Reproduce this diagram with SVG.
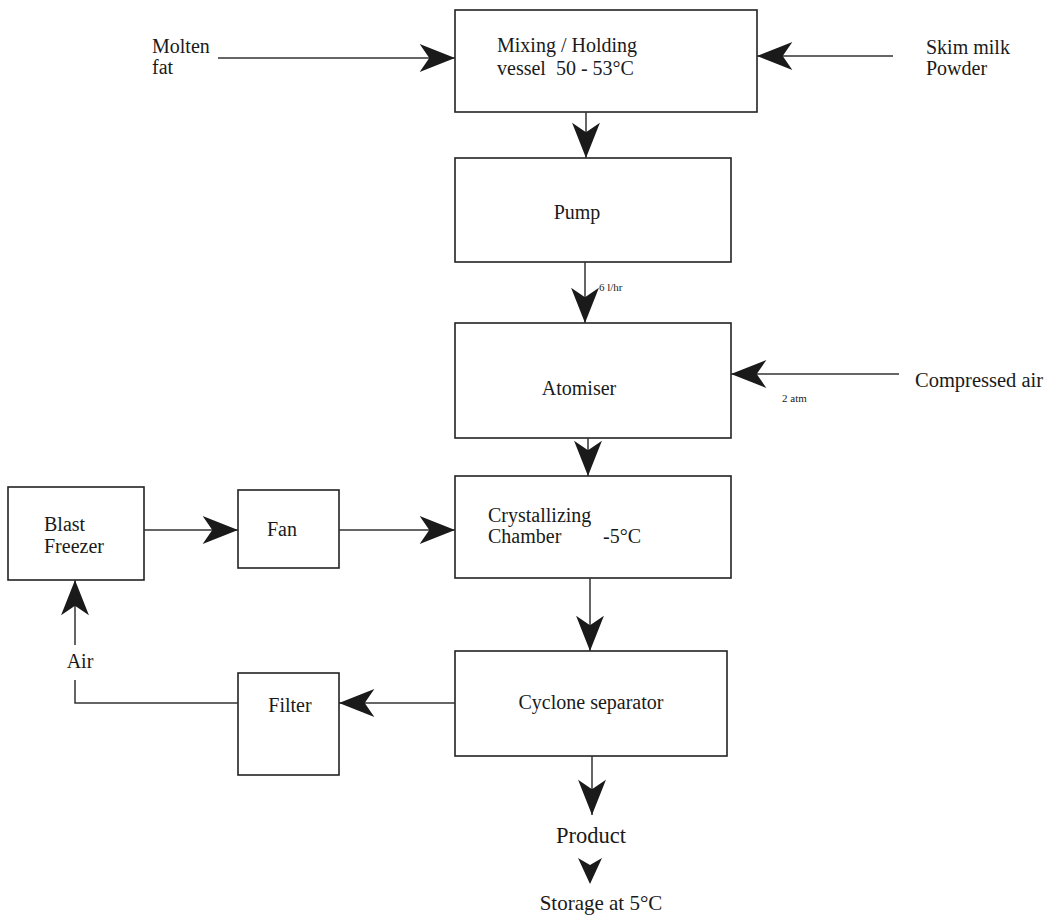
<svg xmlns="http://www.w3.org/2000/svg" width="1053" height="919" viewBox="0 0 1053 919">
<style>
.box{fill:#fff;stroke:#222;stroke-width:1.6}
.ln{fill:none;stroke:#333;stroke-width:1.5}
.t{font-family:"Liberation Serif","Times New Roman",serif;font-size:20px;fill:#1a1a1a}
.s{font-family:"Liberation Serif","Times New Roman",serif;font-size:11px;fill:#1a1a1a}
.ah{fill:#1a1a1a}
</style>
<defs>
<marker id="arr" markerUnits="userSpaceOnUse" markerWidth="40" markerHeight="30" viewBox="-34 -14 36 28" refX="0" refY="0" orient="auto">
<path d="M0,0 L-33,-13 L-24,0 L-33,13 Z" fill="#1a1a1a"/>
</marker>
</defs>
<rect width="1053" height="919" fill="#fff"/>
<g id="mixing"><rect class="box" x="455" y="10" width="302" height="102"/><text class="t" x="497" y="52">Mixing / Holding</text><text class="t" x="497" y="75" xml:space="preserve">vessel  50 - 53°C</text></g>
<g id="pump"><rect class="box" x="455" y="158" width="276" height="104"/><text class="t" x="577" y="219" text-anchor="middle">Pump</text></g>
<g id="atomiser"><rect class="box" x="455" y="323" width="276" height="115"/><text class="t" x="579" y="395" text-anchor="middle">Atomiser</text></g>
<g id="crystallizing"><rect class="box" x="455" y="476" width="276" height="102"/><text class="t" x="488" y="522">Crystallizing</text><text class="t" x="488" y="543">Chamber</text><text class="t" x="603" y="543">-5°C</text></g>
<g id="blast"><rect class="box" x="8" y="487" width="136" height="93"/><text class="t" x="44" y="531">Blast</text><text class="t" x="44" y="553">Freezer</text></g>
<g id="fan"><rect class="box" x="238" y="490" width="101" height="78"/><text class="t" x="267" y="536">Fan</text></g>
<g id="cyclone"><rect class="box" x="455" y="651" width="272" height="105"/><text class="t" x="591" y="709" text-anchor="middle">Cyclone separator</text></g>
<g id="filter"><rect class="box" x="238" y="673" width="101" height="102"/><text class="t" x="290" y="712" text-anchor="middle">Filter</text></g>
<g id="labels">
<text class="t" x="152" y="53">Molten</text><text class="t" x="152" y="74">fat</text>
<text class="t" x="926" y="54">Skim milk</text><text class="t" x="926" y="75">Powder</text>
<text class="t" x="915" y="387" style="font-size:20.5px">Compressed air</text>
<text class="s" x="782" y="402">2 atm</text>
<text class="s" x="599" y="291">6 l/hr</text>
<text class="t" x="80" y="668" text-anchor="middle">Air</text>
<text class="t" x="591" y="843" text-anchor="middle" style="font-size:22.5px">Product</text>
<text class="t" x="601" y="910" text-anchor="middle" style="font-size:21px">Storage at 5°C</text>
</g>
<g id="connectors">
<line class="ln" x1="218" y1="58" x2="455" y2="58" marker-end="url(#arr)"/>
<line class="ln" x1="893" y1="56" x2="757" y2="56" marker-end="url(#arr)"/>
<line class="ln" x1="586" y1="112" x2="586" y2="158" marker-end="url(#arr)"/>
<line class="ln" x1="585" y1="262" x2="585" y2="323" marker-end="url(#arr)"/>
<line class="ln" x1="899" y1="374" x2="731" y2="374" marker-end="url(#arr)"/>
<line class="ln" x1="588" y1="438" x2="588" y2="476" marker-end="url(#arr)"/>
<line class="ln" x1="144" y1="530" x2="238" y2="530" marker-end="url(#arr)"/>
<line class="ln" x1="339" y1="530" x2="455" y2="530" marker-end="url(#arr)"/>
<line class="ln" x1="590" y1="578" x2="590" y2="651" marker-end="url(#arr)"/>
<line class="ln" x1="455" y1="703" x2="339" y2="703" marker-end="url(#arr)"/>
<polyline class="ln" points="238,703 75,703 75,680"/>
<line class="ln" x1="75" y1="645" x2="75" y2="580" marker-end="url(#arr)"/>
<line class="ln" x1="592" y1="756" x2="592" y2="815" marker-end="url(#arr)"/>
<path class="ah" d="M590,884 L578,858 L590,865 L602,858 Z"/>
</g>
</svg>
